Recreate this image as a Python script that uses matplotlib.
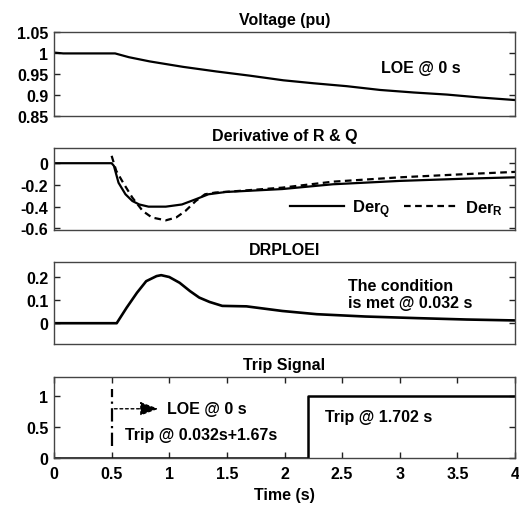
import matplotlib
matplotlib.use("Agg")
import matplotlib.pyplot as plt
from matplotlib.ticker import FormatStrFormatter

plt.rcParams['font.family'] = ['Liberation Sans', 'DejaVu Sans']
plt.rcParams['font.weight'] = 'bold'
plt.rcParams['mathtext.fontset'] = 'custom'
plt.rcParams['mathtext.rm'] = 'Liberation Sans:bold'
plt.rcParams['mathtext.it'] = 'Liberation Sans:bold'
plt.rcParams['mathtext.bf'] = 'Liberation Sans:bold'

# Voltage (pu)
t_v = [0.0, 0.08, 0.53, 0.65, 0.83, 1.12, 1.41, 1.70, 1.99, 2.25, 2.54, 2.83, 3.12, 3.41, 3.70, 4.0]
v = [1.001, 0.999, 0.999, 0.990, 0.980, 0.967, 0.956, 0.946, 0.935, 0.928, 0.921, 0.912, 0.906, 0.901, 0.894, 0.888]

# Derivative of R & Q
t_q = [0.0, 0.5, 0.52, 0.56, 0.62, 0.68, 0.74, 0.82, 0.97, 1.11, 1.23, 1.34, 1.49, 1.98, 2.42, 3.0, 3.58, 4.0]
der_q = [0.0, 0.0, -0.025, -0.18, -0.286, -0.348, -0.38, -0.40, -0.40, -0.38, -0.332, -0.286, -0.265, -0.238, -0.194, -0.163, -0.142, -0.13]
t_r = [0.5, 0.54, 0.6, 0.68, 0.77, 0.85, 0.97, 1.06, 1.14, 1.23, 1.31, 1.40, 1.57, 1.98, 2.42, 3.0, 3.58, 4.0]
der_r = [0.068, -0.07, -0.18, -0.317, -0.44, -0.50, -0.526, -0.50, -0.44, -0.348, -0.286, -0.27, -0.258, -0.225, -0.17, -0.13, -0.10, -0.08]

# DRPLOEI
t_d = [0.0, 0.544, 0.63, 0.72, 0.8, 0.89, 0.93, 1.0, 1.09, 1.18, 1.26, 1.35, 1.46, 1.67, 1.98, 2.28, 2.7, 3.15, 3.58, 4.0]
drploei = [0.0, 0.0, 0.067, 0.132, 0.182, 0.204, 0.208, 0.2, 0.175, 0.139, 0.111, 0.092, 0.075, 0.073, 0.053, 0.039, 0.029, 0.022, 0.016, 0.012]

# Trip signal
t_trip = [0.0, 2.2, 2.2, 4.0]
trip = [0, 0, 1, 1]
loe_time = 0.5

W, H = 519, 506
fig = plt.figure(figsize=(W / 100, H / 100), dpi=100)

def mk(top, bottom):
    return fig.add_axes([54 / W, 1 - bottom / H, 461 / W, (bottom - top) / H])

ax1 = mk(33, 117)
ax2 = mk(149, 231)
ax3 = mk(263, 345)
ax4 = mk(378, 459)

fs = 11.5
afs = 11.5
for ax in (ax1, ax2, ax3, ax4):
    ax.set_xlim(0, 4)
    ax.tick_params(direction='in', length=4, width=1, color='#222222', labelsize=fs,
                   right=True, pad=4)
    for s in ax.spines.values():
        s.set_color('#444444')
        s.set_linewidth(1.0)
    ax.yaxis.set_major_formatter(FormatStrFormatter('%g'))

for ax in (ax1, ax2, ax3):
    ax.tick_params(axis='x', bottom=False, labelbottom=False)

lw = 1.6
ax1.plot(t_v, v, color='black', lw=lw)
ax1.set_ylim(0.85, 1.05)
ax1.set_yticks([0.85, 0.9, 0.95, 1.0, 1.05])
ax1.set_title('Voltage (pu)', fontsize=fs, fontweight='bold', pad=6)
ax1.text(2.84, 0.966, 'LOE @ 0 s', fontsize=afs, fontweight='bold', va='center')

ax2.plot(t_q, der_q, color='black', lw=lw, label=r'Der$_\mathrm{Q}$')
ax2.plot(t_r, der_r, color='black', lw=lw, ls=(0, (3, 2)), label=r'Der$_\mathrm{R}$')
ax2.set_ylim(-0.615, 0.14)
ax2.set_yticks([-0.6, -0.4, -0.2, 0])
ax2.set_title('Derivative of R & Q', fontsize=fs, fontweight='bold', pad=6)
ax2.legend(loc='lower right', ncol=2, frameon=False, fontsize=12, handlelength=3.2,
           columnspacing=0.8, handletextpad=0.5, bbox_to_anchor=(1.0, -0.02),
           borderaxespad=0.3)

ax3.plot(t_d, drploei, color='black', lw=lw + 0.3)
ax3.set_ylim(-0.09, 0.265)
ax3.set_yticks([0, 0.1, 0.2])
ax3.set_title('DRPLOEI', fontsize=fs, fontweight='bold', pad=6)
ax3.text(2.55, 0.128, 'The condition\nis met @ 0.032 s', fontsize=afs, fontweight='bold',
         va='center', linespacing=1.15)

ax4.plot(t_trip, trip, color='black', lw=lw + 0.2)
ax4.plot([loe_time, loe_time], [0.2, 1.1], color='black', lw=1.6, ls=(0, (6, 2, 1, 2)))
ax4.annotate('', xy=(0.93, 0.79), xytext=(loe_time, 0.79),
             arrowprops=dict(arrowstyle='-|>,head_length=0.8,head_width=0.3',
                             ls=(0, (2, 2)), color='black', lw=1.0, mutation_scale=14))
ax4.text(0.98, 0.79, 'LOE @ 0 s', fontsize=afs, fontweight='bold', va='center')
ax4.text(0.62, 0.37, 'Trip @ 0.032s+1.67s', fontsize=afs, fontweight='bold', va='center')
ax4.text(2.35, 0.67, 'Trip @ 1.702 s', fontsize=afs, fontweight='bold', va='center')
ax4.set_ylim(0, 1.3)
ax4.set_yticks([0, 0.5, 1])
ax4.set_xticks([0, 0.5, 1, 1.5, 2, 2.5, 3, 3.5, 4])
ax4.xaxis.set_major_formatter(FormatStrFormatter('%g'))
ax4.tick_params(axis='x', top=True, pad=6)
ax4.set_title('Trip Signal', fontsize=fs, fontweight='bold', pad=6)
ax4.set_xlabel('Time (s)', fontsize=fs, fontweight='bold', labelpad=4)

fig.savefig('out.png', dpi=100)
